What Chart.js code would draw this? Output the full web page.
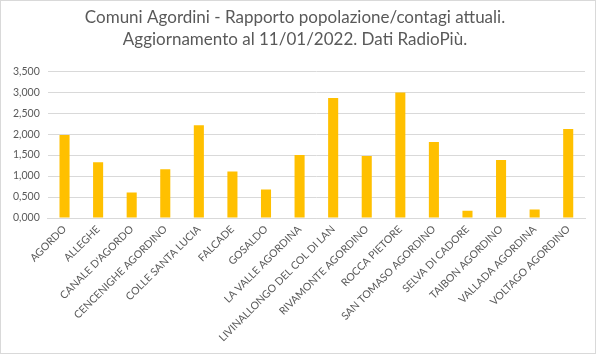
<!DOCTYPE html>
<html>
<head>
<meta charset="utf-8">
<script src="https://cdn.jsdelivr.net/npm/chart.js@4"></script>
<style>
html,body{margin:0;padding:0;background:#fff;}
#wrap{position:relative;width:596px;height:354px;box-sizing:border-box;border:1px solid #d9d9d9;background:#fff;}
canvas{display:block;}
</style>
</head>
<body>
<div id="wrap"><canvas id="c"></canvas></div>
<script>
const titleLines = ["Comuni Agordini - Rapporto popolazione/contagi attuali.", "Aggiornamento al 11/01/2022. Dati RadioPiù."];
const categories = ["AGORDO","ALLEGHE","CANALE D'AGORDO","CENCENIGHE AGORDINO","COLLE SANTA LUCIA","FALCADE","GOSALDO","LA VALLE AGORDINA","LIVINALLONGO DEL COL DI LAN","RIVAMONTE AGORDINO","ROCCA PIETORE","SAN TOMASO AGORDINO","SELVA DI CADORE","TAIBON AGORDINO","VALLADA AGORDINA","VOLTAGO AGORDINO"];
const values = [1.98,1.33,0.61,1.16,2.21,1.11,0.68,1.50,2.86,1.48,2.99,1.81,0.17,1.38,0.20,2.12];
const yTicks = [0,0.5,1,1.5,2,2.5,3,3.5];

const fontFam = "Lato, 'Open Sans', 'Liberation Sans', sans-serif";
new Chart(document.getElementById('c'), {
  type: 'bar',
  data: {
    labels: categories,
    datasets: [{
      data: values,
      backgroundColor: '#ffc000',
      borderWidth: 0,
      categoryPercentage: 1.0,
      barPercentage: 0.3
    }]
  },
  options: {
    responsive: true,
    maintainAspectRatio: false,
    animation: false,
    layout: { padding: { left: 4, right: 10, top: 5, bottom: 4 } },
    plugins: {
      legend: { display: false },
      tooltip: { enabled: false },
      title: {
        display: true,
        text: titleLines,
        color: '#595959',
        font: { family: fontFam, size: 17, weight: 'normal', lineHeight: 1.3 },
        padding: { top: 0, bottom: 21 }
      }
    },
    scales: {
      x: {
        grid: { display: false, drawTicks: false },
        border: { display: true, color: '#d9d9d9' },
        afterFit: (scale) => { scale.height = 131; },
        ticks: {
          color: '#595959',
          font: { family: fontFam, size: 10.5 },
          maxRotation: 45, minRotation: 45,
          autoSkip: false,
          padding: 5
        }
      },
      y: {
        min: 0, max: 3.5,
        afterBuildTicks: (axis) => { axis.ticks = yTicks.map(v => ({ value: v })); },
        grid: { color: '#d9d9d9', drawTicks: false },
        border: { display: false },
        ticks: {
          color: '#595959',
          font: { family: fontFam, size: 10.5 },
          padding: 8,
          callback: (v) => Number(v).toFixed(3).replace('.', ',')
        }
      }
    }
  }
});
</script>
</body>
</html>
